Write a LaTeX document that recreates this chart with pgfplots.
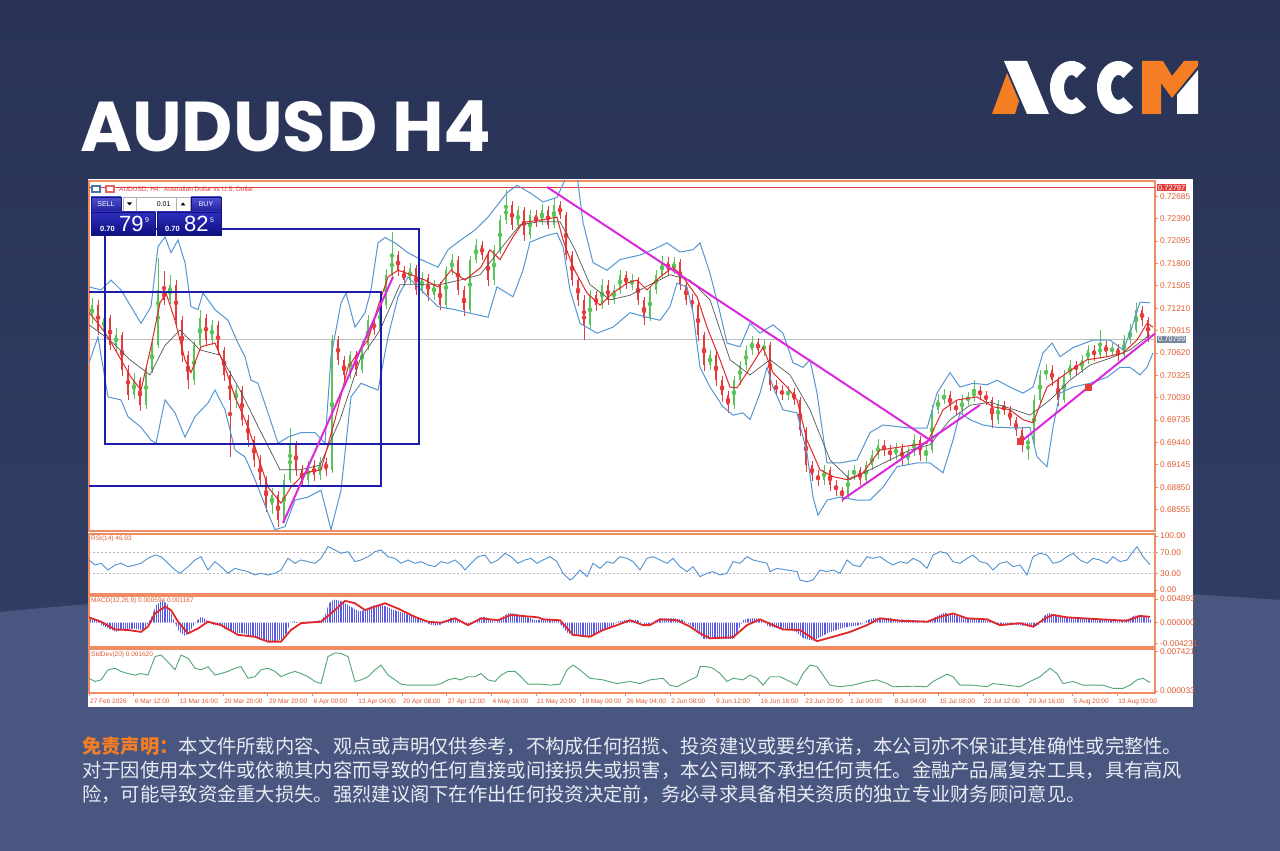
\documentclass[border=0pt]{standalone}
\usepackage{fontspec}
\setmainfont{Liberation Sans}
\newfontfamily\titlefont{Poppins}
\newfontfamily\cjk{Noto Sans CJK SC}
\usepackage{pgfplots}
\usepackage{pgfplotstable}
\pgfplotsset{compat=1.18}
\usetikzlibrary{patterns.meta}
\definecolor{bgtop}{RGB}{40,51,86}
\definecolor{bgbot}{RGB}{52,65,104}
\definecolor{lowbg}{RGB}{72,86,128}
\definecolor{mtorange}{RGB}{240,140,100}
\definecolor{mttext}{RGB}{225,90,50}
\definecolor{cgreen}{RGB}{90,195,90}
\definecolor{cred}{RGB}{228,60,60}
\definecolor{bbblue}{RGB}{85,150,210}
\definecolor{mared}{RGB}{225,40,40}
\definecolor{madark}{RGB}{85,85,85}
\definecolor{tline}{RGB}{220,40,220}
\definecolor{rectnavy}{RGB}{30,30,170}
\definecolor{pgray}{RGB}{190,190,190}
\definecolor{tagslate}{RGB}{120,135,155}
\definecolor{rsiblue}{RGB}{80,145,210}
\definecolor{mhist}{RGB}{90,90,230}
\definecolor{sdgreen}{RGB}{80,165,115}
\definecolor{accorange}{RGB}{245,125,35}
\definecolor{disctext}{RGB}{232,235,242}

\pgfplotstableread{
x o c h l
3 0.7110 0.7125 0.7135 0.7100
9 0.7125 0.7092 0.7132 0.7085
15 0.7092 0.7108 0.7115 0.7086
21 0.7108 0.7072 0.7112 0.7066
27 0.7072 0.7086 0.7095 0.7065
33 0.7086 0.7040 0.7090 0.7032
39 0.7040 0.7007 0.7046 0.7000
45 0.7007 0.7026 0.7035 0.7001
51 0.7026 0.6993 0.7030 0.6985
57 0.6993 0.7040 0.7045 0.6988
63 0.7040 0.7072 0.7080 0.7035
69 0.7072 0.7145 0.7187 0.7068
75 0.7145 0.7132 0.7170 0.7125
81 0.7132 0.7152 0.7165 0.7126
87 0.7152 0.7105 0.7158 0.7098
93 0.7105 0.7059 0.7110 0.7050
99 0.7059 0.7026 0.7064 0.7015
105 0.7026 0.7072 0.7078 0.7020
111 0.7072 0.7108 0.7118 0.7066
117 0.7108 0.7079 0.7114 0.7072
123 0.7079 0.7099 0.7106 0.7073
129 0.7099 0.7066 0.7104 0.7060
135 0.7066 0.7033 0.7070 0.7025
141 0.7033 0.7000 0.7038 0.6925
147 0.7000 0.7013 0.7020 0.6990
153 0.7013 0.6974 0.7018 0.6966
159 0.6974 0.6947 0.6980 0.6938
165 0.6947 0.6921 0.6952 0.6912
171 0.6921 0.6895 0.6928 0.6886
177 0.6895 0.6862 0.6900 0.6852
183 0.6862 0.6875 0.6884 0.6850
189 0.6875 0.6842 0.6880 0.6833
195 0.6842 0.6895 0.6902 0.6838
201 0.6895 0.6941 0.6963 0.6890
207 0.6941 0.6908 0.6946 0.6900
213 0.6908 0.6895 0.6914 0.6886
219 0.6895 0.6914 0.6920 0.6888
225 0.6914 0.6901 0.6921 0.6893
231 0.6901 0.6918 0.6925 0.6895
237 0.6918 0.6908 0.6924 0.6900
243 0.6908 0.7079 0.7085 0.6904
249 0.7079 0.7053 0.7084 0.7046
255 0.7053 0.7033 0.7058 0.7024
261 0.7033 0.7059 0.7065 0.7028
267 0.7059 0.7040 0.7064 0.7032
273 0.7040 0.7072 0.7078 0.7036
279 0.7072 0.7105 0.7112 0.7066
285 0.7105 0.7092 0.7110 0.7085
291 0.7092 0.7125 0.7131 0.7088
297 0.7125 0.7165 0.7172 0.7120
303 0.7165 0.7191 0.7221 0.7160
309 0.7191 0.7171 0.7196 0.7164
315 0.7171 0.7158 0.7176 0.7150
321 0.7158 0.7174 0.7180 0.7152
327 0.7174 0.7145 0.7178 0.7138
333 0.7145 0.7161 0.7168 0.7140
339 0.7161 0.7138 0.7166 0.7130
345 0.7138 0.7152 0.7158 0.7132
351 0.7152 0.7125 0.7156 0.7118
357 0.7125 0.7171 0.7177 0.7120
363 0.7171 0.7185 0.7192 0.7165
369 0.7185 0.7145 0.7190 0.7138
375 0.7145 0.7119 0.7150 0.7110
381 0.7119 0.7185 0.7190 0.7114
387 0.7185 0.7204 0.7212 0.7180
393 0.7204 0.7191 0.7210 0.7184
399 0.7191 0.7158 0.7196 0.7150
405 0.7158 0.7198 0.7204 0.7152
411 0.7198 0.7237 0.7244 0.7192
417 0.7237 0.7257 0.7277 0.7232
423 0.7257 0.7231 0.7262 0.7224
429 0.7231 0.7250 0.7256 0.7226
435 0.7250 0.7217 0.7254 0.7210
441 0.7217 0.7244 0.7250 0.7212
447 0.7244 0.7235 0.7250 0.7228
453 0.7235 0.7250 0.7258 0.7230
459 0.7250 0.7231 0.7255 0.7225
465 0.7231 0.7257 0.7266 0.7226
471 0.7257 0.7244 0.7262 0.7238
477 0.7244 0.7191 0.7248 0.7184
483 0.7191 0.7158 0.7196 0.7150
489 0.7158 0.7132 0.7162 0.7124
495 0.7132 0.7099 0.7138 0.7079
501 0.7099 0.7138 0.7145 0.7094
507 0.7138 0.7125 0.7144 0.7118
513 0.7125 0.7152 0.7160 0.7120
519 0.7152 0.7132 0.7158 0.7125
525 0.7132 0.7145 0.7152 0.7127
531 0.7145 0.7165 0.7172 0.7140
537 0.7165 0.7152 0.7170 0.7146
543 0.7152 0.7158 0.7166 0.7145
549 0.7158 0.7132 0.7162 0.7125
555 0.7132 0.7108 0.7136 0.7099
561 0.7108 0.7145 0.7150 0.7104
567 0.7145 0.7165 0.7172 0.7140
573 0.7165 0.7182 0.7190 0.7160
579 0.7182 0.7171 0.7188 0.7165
585 0.7171 0.7182 0.7188 0.7166
591 0.7182 0.7152 0.7186 0.7145
597 0.7152 0.7132 0.7156 0.7125
603 0.7132 0.7125 0.7140 0.7118
609 0.7125 0.7086 0.7130 0.7078
615 0.7086 0.7046 0.7090 0.7038
621 0.7046 0.7059 0.7066 0.7040
627 0.7059 0.7026 0.7064 0.7018
633 0.7026 0.7007 0.7032 0.6998
639 0.7007 0.6993 0.7012 0.6983
645 0.6993 0.7026 0.7032 0.6988
651 0.7026 0.7046 0.7052 0.7020
657 0.7046 0.7066 0.7072 0.7040
663 0.7066 0.7076 0.7085 0.7060
669 0.7076 0.7066 0.7082 0.7060
675 0.7066 0.7072 0.7080 0.7058
681 0.7072 0.7020 0.7076 0.7012
687 0.7020 0.7013 0.7026 0.7006
693 0.7013 0.7007 0.7020 0.7000
699 0.7007 0.7011 0.7018 0.7000
705 0.7011 0.7000 0.7016 0.6993
711 0.7000 0.6960 0.7004 0.6952
717 0.6960 0.6914 0.6965 0.6905
723 0.6914 0.6901 0.6920 0.6893
729 0.6901 0.6895 0.6908 0.6886
735 0.6895 0.6908 0.6915 0.6888
741 0.6908 0.6888 0.6912 0.6880
747 0.6888 0.6881 0.6895 0.6873
753 0.6881 0.6875 0.6886 0.6866
759 0.6875 0.6901 0.6908 0.6870
765 0.6901 0.6908 0.6915 0.6895
771 0.6908 0.6895 0.6912 0.6888
777 0.6895 0.6914 0.6920 0.6890
783 0.6914 0.6928 0.6934 0.6908
789 0.6928 0.6941 0.6948 0.6922
795 0.6941 0.6934 0.6947 0.6926
801 0.6934 0.6928 0.6940 0.6920
807 0.6928 0.6937 0.6944 0.6921
813 0.6937 0.6921 0.6942 0.6914
819 0.6921 0.6931 0.6938 0.6915
825 0.6931 0.6947 0.6955 0.6926
831 0.6947 0.6928 0.6952 0.6920
837 0.6928 0.6934 0.6940 0.6918
843 0.6934 0.6987 0.6993 0.6930
849 0.6987 0.7000 0.7008 0.6982
855 0.7000 0.7007 0.7014 0.6995
861 0.7007 0.6993 0.7012 0.6986
867 0.6993 0.6987 0.6998 0.6980
873 0.6987 0.7000 0.7006 0.6982
879 0.7000 0.7003 0.7010 0.6994
885 0.7003 0.7013 0.7026 0.6998
891 0.7013 0.7007 0.7018 0.7000
897 0.7007 0.7000 0.7012 0.6994
903 0.7000 0.6974 0.7004 0.6963
909 0.6974 0.6993 0.7000 0.6968
915 0.6993 0.6987 0.6998 0.6980
921 0.6987 0.6974 0.6992 0.6966
927 0.6974 0.6960 0.6978 0.6952
933 0.6960 0.6941 0.6965 0.6932
939 0.6941 0.6947 0.6954 0.6921
945 0.6947 0.7000 0.7006 0.6942
951 0.7000 0.7033 0.7040 0.6995
957 0.7033 0.7040 0.7048 0.7026
963 0.7040 0.7026 0.7046 0.7018
969 0.7026 0.7000 0.7030 0.6992
975 0.7000 0.7033 0.7040 0.6996
981 0.7033 0.7046 0.7053 0.7028
987 0.7046 0.7040 0.7052 0.7033
993 0.7040 0.7053 0.7060 0.7035
999 0.7053 0.7066 0.7072 0.7048
1005 0.7066 0.7059 0.7072 0.7052
1011 0.7059 0.7072 0.7092 0.7054
1017 0.7072 0.7063 0.7078 0.7056
1023 0.7063 0.7069 0.7075 0.7058
1029 0.7069 0.7059 0.7074 0.7052
1035 0.7059 0.7079 0.7086 0.7055
1041 0.7079 0.7092 0.7100 0.7074
1047 0.7092 0.7119 0.7128 0.7088
1053 0.7119 0.7105 0.7124 0.7098
1059 0.7105 0.7082 0.7110 0.7076
}\candles

\pgfplotsset{
  mtpanel/.style={scale only axis, anchor=south west, width=1066pt,
    xmin=0, xmax=1066,
    axis line style={draw=mtorange, line width=1.4pt},
    xtick=\empty, ytick pos=right, yticklabel pos=right,
    scaled y ticks=false, scaled x ticks=false,
    tick align=outside, major tick length=3pt,
    tick style={draw=mtorange, line width=0.8pt},
    yticklabel style={font=\fontsize{8.3}{9}\selectfont, text=mttext, anchor=west, inner sep=0pt, xshift=2pt},
    clip mode=individual,
    axis background/.style={fill=white}},
  upc/.style={cgreen, only marks, mark=none, forget plot,
    restrict expr to domain={\thisrow{c}-\thisrow{o}}{0:1}},
  dnc/.style={cred, only marks, mark=none, forget plot,
    restrict expr to domain={\thisrow{c}-\thisrow{o}}{-1:0}},
}

\begin{document}
\begin{tikzpicture}[x=1pt,y=1pt]
\shade[top color=bgtop, bottom color=bgbot] (0,0) rectangle (1280,851);
\fill[lowbg] (0,0) -- (0,239) .. controls (400,278) and (880,280) .. (1280,251) -- (1280,0) -- cycle;

% title
\node[anchor=base west, inner sep=0pt, text=white] at (80,699) {\titlefont\bfseries\fontsize{70.5}{80}\selectfont AUDUSD H4};

% logo
\fill[accorange] (992,737) -- (1007,778) -- (1019,750) -- (1015,737) -- cycle;
\fill[white] (1004,790) -- (1027,790) -- (1049,737) -- (1027,737) -- cycle;
\draw[white, line width=14pt] ([shift={(48:14.5 and 19.5)}]1071.5,763.5) arc[start angle=48, end angle=312, x radius=14.5, y radius=19.5];
\draw[white, line width=14pt] ([shift={(48:14.5 and 19.5)}]1118.5,763.5) arc[start angle=48, end angle=312, x radius=14.5, y radius=19.5];
\fill[accorange] (1142,737) -- (1142,790) -- (1163,790) -- (1172,775) -- (1184,790) -- (1198,790) -- (1198,785) -- (1172,753) -- (1161,768) -- (1161,737) -- cycle;
\fill[white] (1177,737) -- (1177,756) -- (1198,781) -- (1198,737) -- cycle;

% white chart panel
\fill[white] (88,144) rectangle (1193,672);

% ===== main price panel =====
\begin{axis}[mtpanel, at={(89pt,320pt)}, height=350pt,
  ymin=0.68273, ymax=0.72886,
  ytick={0.68555,0.68850,0.69145,0.69440,0.69735,0.70030,0.70325,0.70620,0.70915,0.71210,0.71505,0.71800,0.72095,0.72390,0.72685},
  yticklabels={0.68555,0.68850,0.69145,0.69440,0.69735,0.70030,0.70325,0.70620,0.70915,0.71210,0.71505,0.71800,0.72095,0.72390,0.72685}]
\addplot[pgray, line width=1.4pt] coordinates {(0,0.70799) (1066,0.70799)};
\addplot[cred, line width=1pt] coordinates {(0,0.72797) (1066,0.72797)};
% wicks
\addplot[upc, error bars/.cd, y dir=both, y explicit, error mark=none, error bar style={line width=0.9pt}]
  table[x=x, y expr=(\thisrow{h}+\thisrow{l})/2, y error expr=(\thisrow{h}-\thisrow{l})/2] {\candles};
\addplot[dnc, error bars/.cd, y dir=both, y explicit, error mark=none, error bar style={line width=0.9pt}]
  table[x=x, y expr=(\thisrow{h}+\thisrow{l})/2, y error expr=(\thisrow{h}-\thisrow{l})/2] {\candles};
% bodies
\addplot[upc, error bars/.cd, y dir=both, y explicit, error mark=none, error bar style={line width=2.8pt}]
  table[x=x, y expr=(\thisrow{o}+\thisrow{c})/2, y error expr=abs(\thisrow{c}-\thisrow{o})/2] {\candles};
\addplot[dnc, error bars/.cd, y dir=both, y explicit, error mark=none, error bar style={line width=2.8pt}]
  table[x=x, y expr=(\thisrow{o}+\thisrow{c})/2, y error expr=abs(\thisrow{c}-\thisrow{o})/2] {\candles};
% Bollinger upper
\addplot[bbblue, line width=1pt] table {
x y
0 0.7149
12 0.7145
22 0.7158
32 0.7145
42 0.7123
52 0.7101
62 0.7123
69 0.7202
76 0.7215
82 0.7194
89 0.7211
96 0.7181
102 0.7123
109 0.7119
114 0.7141
126 0.7119
139 0.7105
149 0.7075
156 0.7057
162 0.7026
169 0.7022
179 0.6983
189 0.6943
199 0.6951
212 0.6957
226 0.6957
236 0.6943
242 0.7057
252 0.7128
257 0.7141
266 0.7096
276 0.7115
282 0.7145
289 0.7207
296 0.7214
306 0.7207
319 0.7194
332 0.7185
349 0.7175
359 0.7198
372 0.7211
386 0.7224
399 0.7241
418 0.7273
428 0.7283
441 0.7273
454 0.7261
468 0.7267
478 0.7296
488 0.7296
494 0.7234
504 0.7181
518 0.7171
531 0.7185
551 0.7191
564 0.7198
578 0.7207
591 0.7195
604 0.7198
611 0.7207
621 0.7167
631 0.7115
638 0.7075
651 0.7070
661 0.7101
671 0.7088
684 0.7099
694 0.7088
704 0.7049
714 0.7043
721 0.7053
728 0.7009
738 0.6917
751 0.6917
768 0.6921
781 0.6957
794 0.6967
821 0.6963
838 0.6963
848 0.7009
861 0.7036
871 0.7017
884 0.7022
898 0.7020
908 0.7026
921 0.7017
934 0.7009
944 0.7017
954 0.7062
963 0.7075
971 0.7057
984 0.7069
1004 0.7079
1021 0.7079
1034 0.7066
1041 0.7088
1051 0.7129
1061 0.7128
};
% Bollinger lower
\addplot[bbblue, line width=1pt] table {
x y
0 0.7049
9 0.7083
19 0.7004
32 0.7000
39 0.6978
52 0.6964
62 0.6947
67 0.6943
76 0.7000
86 0.6983
96 0.6951
106 0.6978
119 0.6996
126 0.7013
136 0.6987
146 0.6934
156 0.6925
166 0.6895
179 0.6851
186 0.6829
196 0.6833
206 0.6868
219 0.6872
232 0.6881
242 0.6829
252 0.6881
262 0.7004
272 0.7022
289 0.7013
299 0.7083
309 0.7136
319 0.7162
332 0.7145
349 0.7123
366 0.7119
379 0.7115
399 0.7109
408 0.7149
424 0.7136
434 0.7171
441 0.7208
458 0.7217
468 0.7220
474 0.7202
481 0.7145
491 0.7101
508 0.7088
524 0.7096
541 0.7115
558 0.7109
571 0.7105
581 0.7123
588 0.7154
598 0.7149
604 0.7115
611 0.7043
621 0.7017
634 0.6991
644 0.6980
654 0.6983
661 0.6974
671 0.7009
678 0.7043
684 0.7017
694 0.6987
708 0.6983
718 0.6930
724 0.6872
729 0.6848
738 0.6868
751 0.6872
768 0.6868
781 0.6868
794 0.6885
808 0.6912
828 0.6917
841 0.6917
854 0.6904
864 0.6947
871 0.6983
881 0.6974
894 0.6967
908 0.6964
928 0.6963
941 0.6964
948 0.6925
958 0.6912
964 0.6964
971 0.7009
984 0.7017
1001 0.7022
1018 0.7030
1031 0.7043
1041 0.7043
1051 0.7033
1058 0.7043
1064 0.7062
};
% slow MA (dark)
\addplot[madark, line width=0.7pt] table {
x y
0 0.7099
21 0.7079
41 0.7053
61 0.7033
76 0.7072
91 0.7092
111 0.7066
131 0.7059
151 0.7013
171 0.6960
191 0.6908
211 0.6908
231 0.6914
251 0.6974
271 0.7053
291 0.7092
311 0.7152
331 0.7152
351 0.7152
371 0.7158
391 0.7165
411 0.7198
431 0.7231
451 0.7235
471 0.7235
486 0.7198
501 0.7152
521 0.7132
541 0.7138
561 0.7152
581 0.7165
601 0.7158
621 0.7132
641 0.7053
661 0.7033
681 0.7053
701 0.7033
721 0.6987
741 0.6921
761 0.6895
781 0.6908
801 0.6921
821 0.6934
841 0.6941
861 0.6974
881 0.6993
901 0.6997
921 0.6989
941 0.6980
961 0.7000
981 0.7026
1001 0.7046
1021 0.7055
1041 0.7066
1061 0.7086
};
% fast MA (red)
\addplot[mared, line width=1pt] table {
x y
0 0.7115
9 0.7101
19 0.7083
32 0.7053
42 0.7030
52 0.7013
62 0.7070
71 0.7128
77 0.7141
86 0.7105
96 0.7053
102 0.7036
112 0.7070
126 0.7075
136 0.7043
146 0.7004
156 0.6974
166 0.6938
179 0.6885
192 0.6864
202 0.6885
216 0.6904
232 0.6908
246 0.6974
259 0.7043
269 0.7062
279 0.7079
289 0.7123
299 0.7162
309 0.7171
322 0.7165
336 0.7158
349 0.7149
362 0.7171
376 0.7158
392 0.7175
401 0.7198
411 0.7185
424 0.7215
434 0.7234
451 0.7237
468 0.7241
474 0.7211
484 0.7175
498 0.7141
511 0.7125
524 0.7141
538 0.7154
548 0.7158
558 0.7145
571 0.7162
584 0.7175
594 0.7162
608 0.7136
618 0.7096
631 0.7053
641 0.7017
648 0.7016
658 0.7036
668 0.7057
674 0.7069
684 0.7036
698 0.7017
708 0.7000
718 0.6947
731 0.6908
744 0.6899
758 0.6895
774 0.6904
791 0.6934
811 0.6938
838 0.6943
854 0.6987
868 0.7000
888 0.7004
904 0.6991
921 0.6987
934 0.6974
944 0.6970
958 0.7017
968 0.7026
978 0.7036
998 0.7053
1018 0.7057
1034 0.7062
1048 0.7079
1058 0.7101
1064 0.7096
};
% rectangles
\addplot[rectnavy, line width=1.5pt] coordinates {(16,0.72254) (330,0.72254) (330,0.69420) (16,0.69420) (16,0.72254)};
\addplot[rectnavy, line width=1.5pt] coordinates {(-5,0.71423) (292,0.71423) (292,0.68867) (-5,0.68867)};
% trendlines
\addplot[tline, line width=2pt] coordinates {(458,0.72807) (844,0.69446)};
\addplot[tline, line width=2pt] coordinates {(194,0.68379) (304,0.71621)};
\addplot[tline, line width=2pt] coordinates {(753,0.68682) (891,0.69934)};
\addplot[tline, line width=2pt] coordinates {(934,0.69473) (1066,0.70876)};
\addplot[only marks, mark=square*, mark size=3pt, color=cred] coordinates {(931,0.69460) (999,0.70171)};
% price tags
\node[fill=cred, text=white, font=\fontsize{7.5}{8}\selectfont, inner sep=1pt, anchor=west] at (axis cs:1068,0.72797) {0.72797};
\node[fill=tagslate, text=white, font=\fontsize{7.5}{8}\selectfont, inner sep=1pt, anchor=west] at (axis cs:1068,0.70799) {0.70799};
\end{axis}

% ===== RSI =====
\begin{axis}[mtpanel, at={(89pt,257pt)}, height=60pt,
  ymin=-7.4, ymax=103.7,
  ytick={0,30,70,100}, yticklabels={0.00,30.00,70.00,100.00}]
\addplot[gray!55, dash pattern=on 2pt off 2pt, line width=0.6pt] coordinates {(0,70) (1066,70)};
\addplot[gray!55, dash pattern=on 2pt off 2pt, line width=0.6pt] coordinates {(0,30) (1066,30)};
\addplot[rsiblue, line width=0.9pt] table {
x y
0 55.6
6 46.3
12 49.4
19 37.0
26 46.3
32 49.4
39 43.2
46 46.3
52 49.4
59 58.6
66 64.8
72 61.7
79 49.4
86 37.0
91 30.9
99 43.2
106 55.6
112 61.7
119 37.0
126 52.5
132 43.2
139 30.9
146 40.1
152 37.0
159 34.0
166 27.8
172 30.9
179 27.8
186 30.9
192 37.0
199 58.6
206 49.4
212 55.6
219 52.5
226 49.4
232 58.6
239 80.2
246 74.1
252 67.9
259 71.0
266 52.5
272 55.6
279 61.7
286 71.0
292 74.1
299 61.7
306 58.6
312 49.4
319 55.6
326 49.4
332 52.5
339 46.3
346 43.2
352 52.5
359 49.4
366 55.6
372 46.3
376 37.0
382 49.4
389 61.7
396 64.8
402 49.4
409 55.6
416 67.9
422 61.7
429 49.4
436 55.6
442 58.6
448 49.4
454 55.6
461 61.7
468 52.5
474 30.9
481 18.5
484 21.6
491 37.0
498 24.7
504 49.4
511 40.1
518 52.5
524 49.4
531 61.7
538 58.6
544 52.5
551 37.0
558 58.6
564 61.7
571 55.6
578 49.4
584 58.6
591 43.2
598 34.0
604 43.2
611 24.7
618 30.9
624 34.0
631 27.8
638 30.9
644 52.5
651 49.4
658 61.7
664 55.6
671 52.5
678 49.4
681 34.0
688 40.1
698 37.0
708 34.0
711 18.5
718 15.4
724 18.5
731 37.0
738 34.0
744 37.0
751 30.9
758 55.6
764 46.3
771 43.2
778 61.7
784 58.6
791 61.7
798 52.5
804 46.3
811 52.5
818 49.4
824 58.6
831 52.5
838 40.1
844 64.8
851 71.0
858 67.9
864 52.5
871 49.4
878 58.6
884 64.8
891 52.5
898 49.4
904 37.0
911 49.4
918 52.5
924 43.2
931 46.3
938 27.8
944 61.7
951 67.9
958 64.8
964 49.4
971 52.5
978 61.7
984 67.9
991 55.6
998 49.4
1004 58.6
1011 55.6
1018 49.4
1024 61.7
1031 52.5
1038 55.6
1044 71.0
1048 80.2
1054 61.7
1061 46.9
};
\end{axis}

% ===== MACD =====
\begin{axis}[mtpanel, at={(89pt,204pt)}, height=51pt,
  ymin=-0.0050, ymax=0.005494,
  ytick={-0.004231,0,0.004893}, yticklabels={-0.004231,0.000000,0.004893}]
\addplot[draw=none, pattern={Lines[angle=90,distance=2.2pt,line width=1.3pt]}, pattern color=mhist] table {
x y
0 0
0 0.0009
10 0.0006
12 -0.0004
20 -0.0012
27 -0.0019
33 -0.0014
45 -0.0012
55 -0.0016
58 -0.0005
63 0.0014
67 0.0036
73 0.0045
78 0.0040
82 0.0020
86 0.0000
90 -0.0018
96 -0.0027
100 -0.0020
104 -0.0008
108 0.0004
112 0.0012
116 0.0008
120 0.0000
125 -0.0005
131 -0.0005
135 -0.0012
145 -0.0020
155 -0.0022
165 -0.0030
175 -0.0038
185 -0.0038
193 -0.0035
198 -0.0020
201 0.0000
205 0.0003
210 0.0000
215 0.0002
225 0.0003
232 0.0005
236 0.0015
240 0.0040
245 0.0048
252 0.0044
258 0.0038
264 0.0030
270 0.0023
276 0.0026
282 0.0034
290 0.0038
296 0.0034
305 0.0026
315 0.0020
325 0.0012
333 0.0005
340 -0.0003
346 -0.0006
352 -0.0004
356 0.0003
362 0.0010
370 0.0008
375 -0.0003
380 -0.0007
385 0.0000
390 0.0010
396 0.0012
402 0.0006
407 0.0000
412 0.0010
420 0.0020
428 0.0018
435 0.0012
441 0.0010
445 0.0006
460 0.0006
470 0.0004
472 -0.0005
478 -0.0020
485 -0.0027
500 -0.0029
510 -0.0020
520 -0.0012
525 -0.0004
528 0.0002
535 0.0005
548 0.0006
553 0.0000
558 -0.0006
563 -0.0003
566 0.0004
572 0.0009
585 0.0009
593 0.0006
598 0.0000
605 -0.0010
611 -0.0024
615 -0.0034
625 -0.0034
645 -0.0033
650 -0.0012
654 0.0005
660 0.0009
668 0.0009
675 0.0004
678 -0.0006
685 -0.0010
700 -0.0013
708 -0.0020
715 -0.0033
725 -0.0037
731 -0.0030
740 -0.0020
755 -0.0010
770 -0.0005
775 0.0000
778 0.0005
785 0.0010
800 0.0010
805 0.0007
815 0.0006
835 0.0004
838 0.0000
842 0.0005
848 0.0014
855 0.0020
862 0.0018
870 0.0012
880 0.0008
895 0.0006
905 0.0002
908 -0.0005
915 -0.0006
925 -0.0004
935 -0.0006
940 -0.0008
945 -0.0010
950 -0.0004
952 0.0005
955 0.0014
960 0.0020
965 0.0017
975 0.0012
990 0.0010
1005 0.0008
1020 0.0006
1030 0.0005
1040 0.0008
1045 0.0014
1050 0.0016
1058 0.0012
1062 0.0006
1062 0
};
\addplot[mared, line width=1.8pt] table {
x y
0 0.0011
12 0.0002
26 -0.0014
39 -0.0015
52 -0.0019
59 -0.0008
66 0.0019
76 0.0033
82 0.0026
89 0.0002
99 -0.0022
109 -0.0012
119 0.0002
132 -0.0005
149 -0.0025
166 -0.0029
179 -0.0039
192 -0.0039
202 -0.0015
212 -0.0001
232 0.0002
246 0.0026
256 0.0045
266 0.0040
276 0.0026
286 0.0033
296 0.0040
309 0.0029
326 0.0012
339 0.0002
352 0.0000
366 0.0009
379 -0.0005
392 0.0009
409 0.0005
422 0.0016
449 0.0011
454 0.0007
471 0.0005
484 -0.0025
501 -0.0029
514 -0.0015
528 -0.0005
541 0.0005
554 -0.0005
561 -0.0005
571 0.0007
588 0.0005
601 -0.0008
611 -0.0022
621 -0.0032
644 -0.0030
658 -0.0005
671 0.0007
684 -0.0005
694 -0.0014
711 -0.0015
728 -0.0038
744 -0.0029
761 -0.0019
778 -0.0005
791 0.0009
811 0.0004
838 0.0002
851 0.0012
864 0.0019
878 0.0009
898 0.0007
911 -0.0005
931 -0.0001
944 -0.0008
958 0.0011
964 0.0016
978 0.0011
1011 0.0007
1038 0.0004
1051 0.0014
1061 0.0012
};
\end{axis}

% ===== StdDev =====
\begin{axis}[mtpanel, at={(89pt,158pt)}, height=44pt,
  ymin=-0.000378, ymax=0.007938,
  ytick={0,0.007421}, yticklabels={0.000033,0.007421},
  xtick={0,44.7,89.4,134.1,178.8,223.5,268.2,312.9,357.6,402.3,447,491.7,536.4,581.1,625.8,670.5,715.2,759.9,804.6,849.3,894,938.7,983.4,1028.1},
  xticklabels={27 Feb 2026,6 Mar 12:00,13 Mar 16:00,20 Mar 20:00,29 Mar 20:00,6 Apr 00:00,13 Apr 04:00,20 Apr 08:00,27 Apr 12:00,4 May 16:00,11 May 20:00,19 May 00:00,26 May 04:00,2 Jun 08:00,9 Jun 12:00,16 Jun 16:00,23 Jun 20:00,1 Jul 00:00,8 Jul 04:00,15 Jul 08:00,22 Jul 12:00,29 Jul 16:00,5 Aug 20:00,13 Aug 00:00},
  xtick pos=bottom,
  xticklabel style={font=\fontsize{6.5}{7}\selectfont, text=mttext, anchor=north west, inner sep=0pt, xshift=1pt, yshift=-2.5pt}]
\addplot[sdgreen, line width=0.9pt] table {
x y
0 0.0024
6 0.0018
12 0.0021
19 0.0040
26 0.0043
32 0.0037
39 0.0033
46 0.0030
52 0.0033
59 0.0030
66 0.0065
72 0.0068
79 0.0055
86 0.0040
92 0.0068
99 0.0062
106 0.0043
112 0.0040
119 0.0046
126 0.0030
132 0.0033
139 0.0037
146 0.0043
152 0.0046
159 0.0024
166 0.0027
172 0.0040
179 0.0043
186 0.0037
192 0.0027
199 0.0033
206 0.0037
212 0.0033
219 0.0027
226 0.0018
232 0.0014
239 0.0065
246 0.0072
252 0.0071
259 0.0065
266 0.0018
272 0.0021
279 0.0027
286 0.0040
292 0.0049
299 0.0030
306 0.0021
312 0.0013
319 0.0011
332 0.0011
346 0.0011
352 0.0014
359 0.0021
366 0.0024
372 0.0021
379 0.0027
386 0.0027
392 0.0033
399 0.0021
406 0.0018
412 0.0030
419 0.0037
426 0.0037
432 0.0027
439 0.0013
451 0.0013
461 0.0011
471 0.0013
478 0.0040
484 0.0049
491 0.0040
501 0.0024
514 0.0021
528 0.0014
541 0.0018
551 0.0014
561 0.0021
574 0.0024
581 0.0011
588 0.0008
601 0.0021
608 0.0027
611 0.0046
618 0.0046
624 0.0043
631 0.0033
638 0.0018
644 0.0024
654 0.0021
661 0.0030
668 0.0024
674 0.0011
681 0.0027
691 0.0027
701 0.0018
708 0.0011
714 0.0033
721 0.0049
728 0.0046
734 0.0030
741 0.0011
751 0.0008
764 0.0011
778 0.0018
788 0.0021
798 0.0014
804 0.0008
824 0.0009
838 0.0008
844 0.0018
858 0.0032
864 0.0027
871 0.0011
884 0.0011
898 0.0008
904 0.0014
918 0.0011
931 0.0008
941 0.0018
951 0.0027
961 0.0043
968 0.0033
974 0.0014
984 0.0018
994 0.0011
1004 0.0011
1014 0.0011
1024 0.0005
1034 0.0005
1041 0.0011
1048 0.0021
1054 0.0024
1061 0.0016
};
\end{axis}

% panel captions
\node[anchor=west, inner sep=0pt, text=cred, font=\fontsize{6.5}{7}\selectfont] at (119,661) {AUDUSD, H4:\ \ Australian Dollar vs U.S. Dollar};
\fill[bbblue!80!black] (91,658) rectangle (101,666);
\fill[white] (93,660) rectangle (99,664);
\fill[cred!80] (105,658) rectangle (115,666);
\fill[white] (107,660) rectangle (113,664);
\node[anchor=west, inner sep=0pt, text=mttext, font=\fontsize{6.5}{7}\selectfont] at (91,312) {RSI(14) 46.93};
\node[anchor=west, inner sep=0pt, text=mttext, font=\fontsize{6.5}{7}\selectfont] at (91,250) {MACD(12,26,9) 0.000594 0.001167};
\node[anchor=west, inner sep=0pt, text=mttext, font=\fontsize{6.5}{7}\selectfont] at (91,196) {StdDev(20) 0.001620};

% one-click trading panel
\shade[top color={rgb,255:red,80;green,80;blue,210}, bottom color={rgb,255:red,35;green,35;blue,160}, draw={rgb,255:red,20;green,20;blue,120}] (91,640) rectangle (121,654);
\node[text=white, font=\fontsize{7}{8}\selectfont] at (106,647) {SELL};
\filldraw[fill=white, draw=gray!60] (123,640) rectangle (136,654);
\fill[black] (127,648.5) -- (132,648.5) -- (129.5,645.5) -- cycle;
\filldraw[fill=white, draw=gray!60] (136,640) rectangle (176,654);
\node[anchor=east, font=\fontsize{7}{8}\selectfont] at (174,647) {0.01};
\filldraw[fill=white, draw=gray!60] (176,640) rectangle (190,654);
\fill[black] (180.5,645.5) -- (185.5,645.5) -- (183,648.5) -- cycle;
\shade[top color={rgb,255:red,80;green,80;blue,210}, bottom color={rgb,255:red,35;green,35;blue,160}, draw={rgb,255:red,20;green,20;blue,120}] (191,640) rectangle (221,654);
\node[text=white, font=\fontsize{7}{8}\selectfont] at (206,647) {BUY};
\shade[top color={rgb,255:red,45;green,45;blue,190}, bottom color={rgb,255:red,15;green,15;blue,130}, draw={rgb,255:red,20;green,20;blue,120}] (91,616) rectangle (155,639);
\shade[top color={rgb,255:red,45;green,45;blue,190}, bottom color={rgb,255:red,15;green,15;blue,130}, draw={rgb,255:red,20;green,20;blue,120}] (157,616) rectangle (221,639);
\node[anchor=base west, inner sep=0pt, text=white, font=\fontsize{7.5}{8}\selectfont\bfseries] at (100,619) {0.70};
\node[anchor=base west, inner sep=0pt, text=white, font=\fontsize{22}{24}\selectfont] at (119,619) {79};
\node[anchor=base west, inner sep=0pt, text=white, font=\fontsize{7}{8}\selectfont] at (145,628) {9};
\node[anchor=base west, inner sep=0pt, text=white, font=\fontsize{7.5}{8}\selectfont\bfseries] at (165,619) {0.70};
\node[anchor=base west, inner sep=0pt, text=white, font=\fontsize{22}{24}\selectfont] at (184,619) {82};
\node[anchor=base west, inner sep=0pt, text=white, font=\fontsize{7}{8}\selectfont] at (210,628) {5};

% disclaimer
\node[anchor=base west, inner sep=0pt, text=disctext] at (82,97) {\cjk\fontsize{19.3}{22}\selectfont\textcolor{accorange}{\bfseries 免责声明：}本文件所载内容、观点或声明仅供参考，不构成任何招揽、投资建议或要约承诺，本公司亦不保证其准确性或完整性。};
\node[anchor=base west, inner sep=0pt, text=disctext] at (82,73) {\cjk\fontsize{19.3}{22}\selectfont 对于因使用本文件或依赖其内容而导致的任何直接或间接损失或损害，本公司概不承担任何责任。金融产品属复杂工具，具有高风};
\node[anchor=base west, inner sep=0pt, text=disctext] at (82,49) {\cjk\fontsize{19.3}{22}\selectfont 险，可能导致资金重大损失。强烈建议阁下在作出任何投资决定前，务必寻求具备相关资质的独立专业财务顾问意见。};

\pgfresetboundingbox
\path[use as bounding box] (0,0) rectangle (1280,851);
\end{tikzpicture}
\end{document}
